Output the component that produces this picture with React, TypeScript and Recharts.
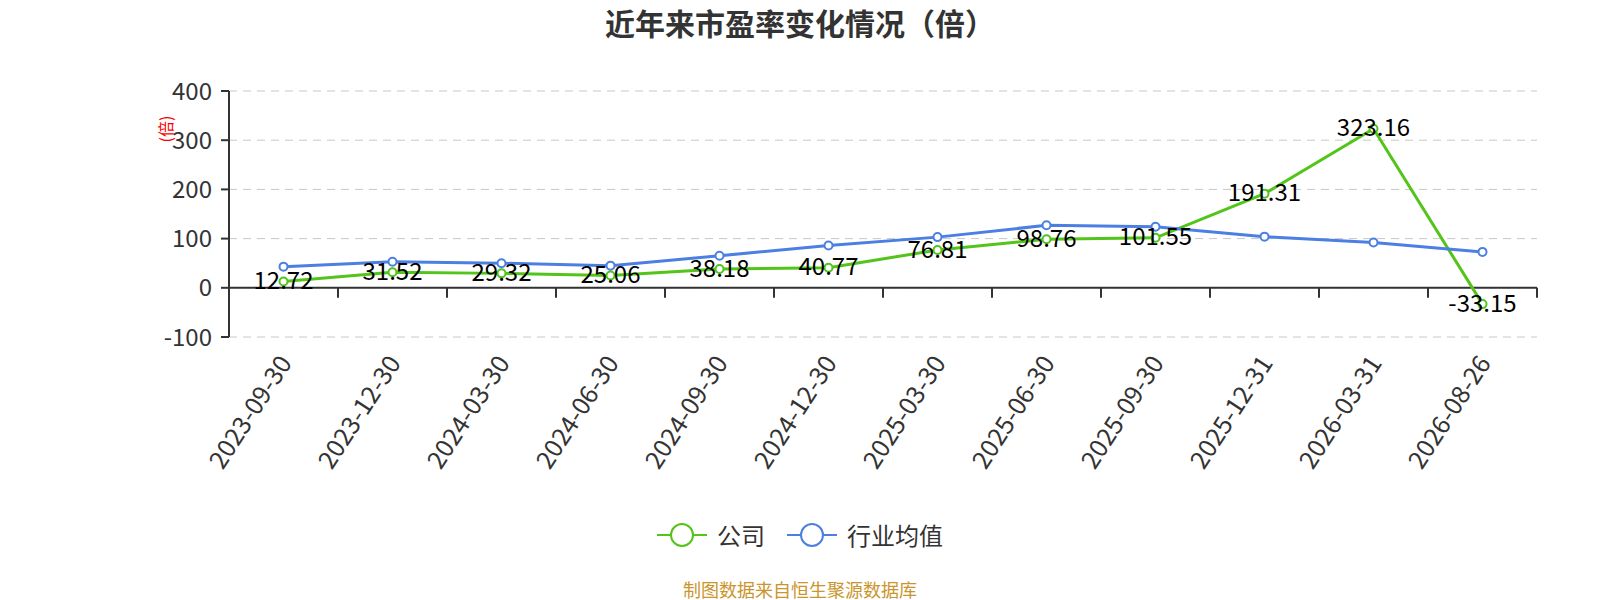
import { LineChart, Line, XAxis, YAxis, CartesianGrid, Legend, LabelList, ReferenceLine } from 'recharts'

const dates = [
  '2023-09-30', '2023-12-30', '2024-03-30', '2024-06-30', '2024-09-30', '2024-12-30',
  '2025-03-30', '2025-06-30', '2025-09-30', '2025-12-31', '2026-03-31', '2026-08-26',
]
const company = [12.72, 31.52, 29.32, 25.06, 38.18, 40.77, 76.81, 98.76, 101.55, 191.31, 323.16, -33.15]
const industry = [43, 53, 50, 45, 65, 86, 103, 127, 124, 104, 92, 73]
const yTicks = [-100, 0, 100, 200, 300, 400]

const seriesNames = { company: '公司', industry: '行业均值' }
const GREEN = '#52c41a'
const BLUE = '#4b7fe2'
const FONT = '"Noto Sans CJK SC", "Noto Sans", sans-serif'

const data = dates.map((date, i) => ({ date, company: company[i], industry: industry[i] }))

const W = 1600
const H = 600
const M = { top: 91, right: 63, bottom: 0, left: 0 }
const Y_WIDTH = 229
const BAND = (W - M.left - M.right - Y_WIDTH) / dates.length

function DateTick({ x, y, payload }: any) {
  const ty = y + 12
  return (
    <text
      x={x}
      y={ty}
      transform={`rotate(-57, ${x}, ${ty})`}
      textAnchor="end"
      dominantBaseline="central"
      fontSize={25}
      fill="#333"
      fontFamily={FONT}
    >
      {payload.value}
    </text>
  )
}

function ZeroAxis(props: any) {
  const { x1, y1, x2 } = props
  const step = (x2 - x1) / dates.length
  return (
    <g>
      <line x1={x1} y1={y1} x2={x2} y2={y1} stroke="#333" strokeWidth={2} />
      {dates.map((_, i) => (
        <line key={i} x1={x1 + step * (i + 1)} y1={y1} x2={x1 + step * (i + 1)} y2={y1 + 10} stroke="#333" strokeWidth={2} />
      ))}
    </g>
  )
}

function ValueLabel({ x, y, value }: any) {
  return (
    <text x={x} y={y - 3} textAnchor="middle" dominantBaseline="central" fontSize={24} fill="#000" fontFamily={FONT}>
      {value}
    </text>
  )
}

function LegendContent() {
  const items = [
    { name: seriesNames.company, color: GREEN },
    { name: seriesNames.industry, color: BLUE },
  ]
  return (
    <div style={{ display: 'flex', justifyContent: 'center', alignItems: 'center', gap: 22 }}>
      {items.map((it) => (
        <div key={it.name} style={{ display: 'flex', alignItems: 'center' }}>
          <svg width={50} height={28}>
            <line x1={0} y1={14} x2={50} y2={14} stroke={it.color} strokeWidth={2} />
            <circle cx={25} cy={14} r={11} fill="#fff" stroke={it.color} strokeWidth={2} />
          </svg>
          <span style={{ marginLeft: 10, fontSize: 24, color: '#333', fontFamily: FONT }}>{it.name}</span>
        </div>
      ))}
    </div>
  )
}

export default function App() {
  return (
    <div style={{ position: 'absolute', left: 0, top: 0, width: W, height: H, background: '#fff', fontFamily: FONT }}>
      <div style={{ position: 'absolute', left: 0, top: 0, width: W, height: 45, lineHeight: '45px', textAlign: 'center', fontSize: 30, fontWeight: 'bold', color: '#333' }}>
        近年来市盈率变化情况（倍）
      </div>
      <LineChart width={W} height={H} data={data} margin={M}>
        <CartesianGrid horizontal vertical={false} stroke="#c8c8c8" strokeDasharray="8 6" />
        <XAxis
          dataKey="date"
          interval={0}
          axisLine={false}
          tickLine={false}
          height={H - 337}
          padding={{ left: BAND / 2, right: BAND / 2 }}
          tick={<DateTick />}
        />
        <YAxis
          width={Y_WIDTH}
          domain={[-100, 400]}
          ticks={yTicks}
          interval={0}
          axisLine={{ stroke: '#333', strokeWidth: 2 }}
          tickLine={{ stroke: '#333', strokeWidth: 2 }}
          tickSize={8}
          tickMargin={9}
          tick={{ fontSize: 24, fill: '#333', fontFamily: FONT }}
          label={({ viewBox }: any) => (
            <text
              x={viewBox.x + viewBox.width - 64}
              y={viewBox.y + 38}
              transform={`rotate(-90, ${viewBox.x + viewBox.width - 64}, ${viewBox.y + 38})`}
              textAnchor="middle"
              dominantBaseline="central"
              fontSize={16}
              fill="#f00"
              fontFamily={FONT}
            >
              (倍)
            </text>
          )}
        />
        <ReferenceLine y={0} shape={ZeroAxis} />
        <Line
          dataKey="company"
          name={seriesNames.company}
          stroke={GREEN}
          strokeWidth={3}
          dot={{ r: 4, fill: '#fff', stroke: GREEN, strokeWidth: 2 }}
          isAnimationActive={false}
        >
          <LabelList dataKey="company" content={<ValueLabel />} />
        </Line>
        <Line
          dataKey="industry"
          name={seriesNames.industry}
          stroke={BLUE}
          strokeWidth={3}
          dot={{ r: 4, fill: '#fff', stroke: BLUE, strokeWidth: 2 }}
          isAnimationActive={false}
        />
        <Legend verticalAlign="middle" wrapperStyle={{ top: 517, left: 0, width: W }} content={<LegendContent />} />
      </LineChart>
      <div style={{ position: 'absolute', left: 0, top: 577, width: W, height: 24, lineHeight: '24px', textAlign: 'center', fontSize: 18, color: '#c9952c' }}>
        制图数据来自恒生聚源数据库
      </div>
    </div>
  )
}
